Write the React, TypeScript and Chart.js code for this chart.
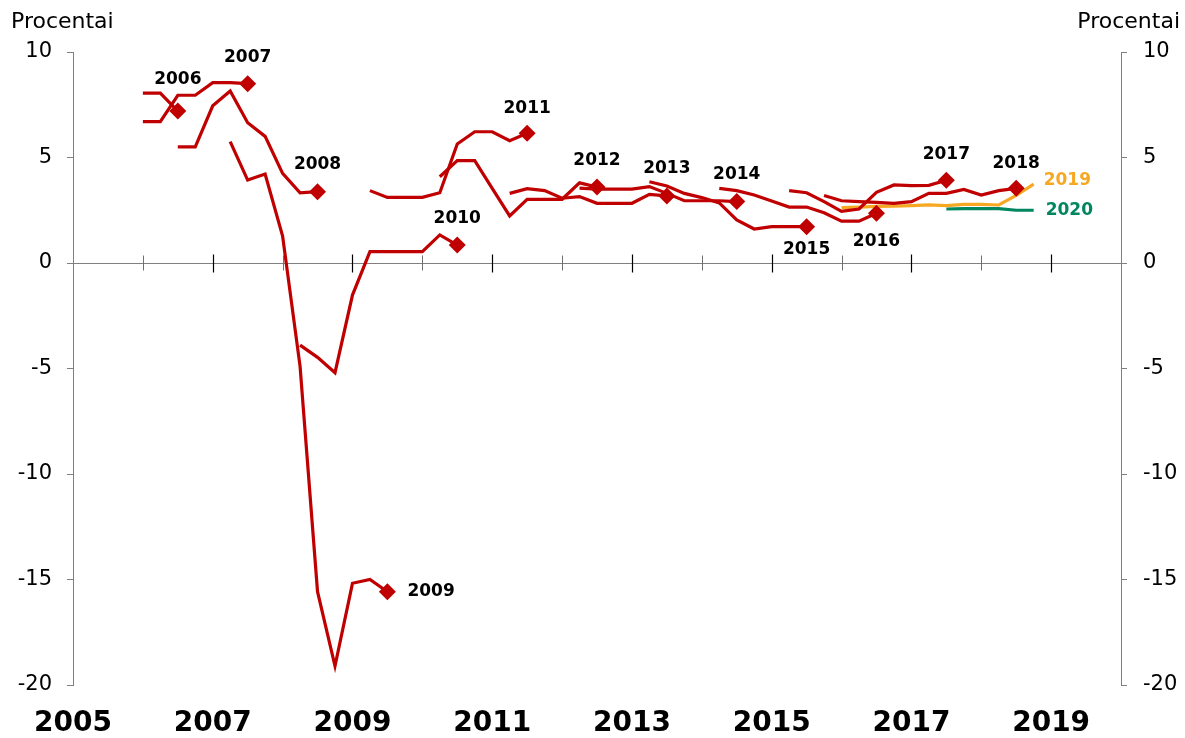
import React, { useEffect, useRef } from 'react';
import { Chart, registerables } from 'chart.js';

Chart.register(...registerables);

// ---- data ----
const vintageNames = ['2006', '2007', '2008', '2009', '2010', '2011', '2012', '2013', '2014', '2015', '2016', '2017', '2018', '2019', '2020'];
// first forecast date (year fraction) of each vintage; points follow quarterly
const vintageStarts = [2006.0, 2006.0, 2006.5, 2007.25, 2008.25, 2009.25, 2010.25, 2011.25, 2012.25, 2013.25, 2014.25, 2015.25, 2015.75, 2016.0, 2017.5];

const f2006 = [8.05, 8.05, 7.2];
const f2007 = [6.7, 6.7, 7.95, 7.95, 8.55, 8.55, 8.5];
const f2008 = [5.5, 5.5, 7.45, 8.15, 6.65, 6.0, 4.25, 3.33, 3.38];
const f2009 = [5.75, 3.93, 4.22, 1.28, -4.9, -15.58, -19.1, -15.18, -15.0, -15.58];
const f2010 = [-3.89, -4.47, -5.2, -1.52, 0.54, 0.54, 0.54, 0.54, 1.33, 0.85];
const f2011 = [3.43, 3.11, 3.11, 3.11, 3.33, 5.64, 6.22, 6.22, 5.8, 6.15];
const f2012 = [4.09, 4.85, 4.85, 3.54, 2.23, 3.02, 3.02, 3.02, 3.8, 3.6];
const f2013 = [3.3, 3.52, 3.43, 3.07, 3.15, 2.83, 2.83, 2.83, 3.25, 3.18];
const f2014 = [3.55, 3.5, 3.5, 3.5, 3.62, 3.3, 2.95, 2.95, 2.95, 2.91];
const f2015 = [3.85, 3.65, 3.3, 3.1, 2.85, 2.04, 1.61, 1.72, 1.72, 1.72];
const f2016 = [3.54, 3.43, 3.22, 2.94, 2.65, 2.65, 2.38, 1.98, 1.98, 2.36];
const f2017 = [3.43, 3.33, 2.91, 2.45, 2.56, 3.35, 3.7, 3.67, 3.68, 3.92];
const f2018 = [3.2, 2.95, 2.91, 2.87, 2.83, 2.91, 3.3, 3.3, 3.49, 3.22, 3.43, 3.54];
const f2019 = [2.62, 2.65, 2.68, 2.7, 2.72, 2.75, 2.72, 2.78, 2.78, 2.75, 3.2, 3.74];
const f2020 = [2.56, 2.58, 2.58, 2.58, 2.5, 2.5];

const vintageValues = [f2006, f2007, f2008, f2009, f2010, f2011, f2012, f2013, f2014, f2015, f2016, f2017, f2018, f2019, f2020];

const xTickYears = [2005, 2007, 2009, 2011, 2013, 2015, 2017, 2019];
const zeroLineTickYears = [2006, 2007, 2008, 2009, 2010, 2011, 2012, 2013, 2014, 2015, 2016, 2017, 2018, 2019];
const yTicks = [10, 5, 0, -5, -10, -15, -20];
const axisTitle = 'Procentai';

// ---- styles ----
const RED = '#C00000';
const ORANGE = '#F7A823';
const GREEN = '#00875F';
const AXIS = '#808080';
const FONT = '"DejaVu Sans", Verdana, sans-serif';

const vintageColors = vintageNames.map((n) => (n === '2019' ? ORANGE : n === '2020' ? GREEN : RED));
const hasDiamond = vintageNames.map((n) => n !== '2019' && n !== '2020');
// label placement relative to last point: [dx, dy, align]
const labelPlacement: [number, number, CanvasTextAlign][] = [
  [0, -32, 'center'],
  [0, -26, 'center'],
  [0, -27, 'center'],
  [20, 0, 'left'],
  [0, -26, 'center'],
  [0, -25, 'center'],
  [0, -26, 'center'],
  [0, -27, 'center'],
  [0, -27, 'center'],
  [0, 23, 'center'],
  [0, 28, 'center'],
  [0, -26, 'center'],
  [0, -25, 'center'],
  [10, -4, 'left'],
  [12, 0, 'left'],
];

const zeroLinePlugin = {
  id: 'zeroLine',
  beforeDatasetsDraw(chart: any) {
    const { ctx, chartArea, scales } = chart;
    const y0 = Math.round(scales.y.getPixelForValue(0)) + 0.5;
    ctx.save();
    ctx.strokeStyle = AXIS;
    ctx.lineWidth = 1;
    ctx.beginPath();
    ctx.moveTo(chartArea.left, y0);
    ctx.lineTo(chartArea.right, y0);
    ctx.stroke();
    zeroLineTickYears.forEach((yr) => {
      const x = Math.round(scales.x.getPixelForValue(yr)) + 0.5;
      const major = yr % 2 === 1;
      ctx.strokeStyle = major ? '#000' : '#707070';
      ctx.lineWidth = major ? 1.2 : 1;
      const up = major ? 9 : 8;
      const dn = major ? 9 : 7;
      ctx.beginPath();
      ctx.moveTo(x, y0 - up);
      ctx.lineTo(x, y0 + dn);
      ctx.stroke();
    });
    ctx.restore();
  },
};

const labelsPlugin = {
  id: 'vintageLabels',
  afterDatasetsDraw(chart: any) {
    const { ctx } = chart;
    ctx.save();
    ctx.font = `bold 17px ${FONT}`;
    ctx.textBaseline = 'middle';
    chart.data.datasets.forEach((ds: any, i: number) => {
      const meta = chart.getDatasetMeta(i);
      const pt = meta.data[meta.data.length - 1];
      if (!pt) return;
      const [dx, dy, align] = labelPlacement[i];
      ctx.fillStyle = i >= 13 ? vintageColors[i] : '#000';
      ctx.textAlign = align;
      ctx.fillText(vintageNames[i], pt.x + dx, pt.y + dy);
    });
    ctx.restore();
  },
};

const titlePlugin = {
  id: 'unitTitles',
  afterDraw(chart: any) {
    const { ctx, width } = chart;
    ctx.save();
    ctx.font = `22px ${FONT}`;
    ctx.fillStyle = '#000';
    ctx.textBaseline = 'alphabetic';
    ctx.textAlign = 'left';
    ctx.fillText(axisTitle, 11, 28);
    ctx.textAlign = 'right';
    ctx.fillText(axisTitle, width - 5, 28);
    ctx.restore();
  },
};

export default function App() {
  const ref = useRef<HTMLCanvasElement>(null);

  useEffect(() => {
    if (!ref.current) return;
    const datasets = vintageValues.map((vals, i) => ({
      label: vintageNames[i],
      data: vals.map((v, k) => ({ x: vintageStarts[i] + k * 0.25, y: v })),
      borderColor: vintageColors[i],
      backgroundColor: vintageColors[i],
      borderWidth: 3.2,
      tension: 0,
      fill: false,
      pointStyle: 'rectRot',
      pointRadius: vals.map((_, k) => (hasDiamond[i] && k === vals.length - 1 ? 8.5 : 0)),
      pointBorderWidth: 0,
      pointBackgroundColor: vintageColors[i],
      pointHoverRadius: 0,
    }));

    const yCommon = {
      type: 'linear' as const,
      min: -20,
      max: 10,
      afterBuildTicks: (s: any) => {
        s.ticks = yTicks.map((v) => ({ value: v }));
      },
      grid: { drawOnChartArea: false, drawTicks: true, tickLength: 6, color: AXIS, lineWidth: 1 },
      border: { display: true, color: AXIS, width: 1 },
    };

    const chart = new Chart(ref.current, {
      type: 'line',
      data: { datasets },
      options: {
        animation: false,
        responsive: false,
        devicePixelRatio: 1,
        layout: { padding: { top: 52, left: 0, right: 0, bottom: 0 } },
        plugins: { legend: { display: false }, tooltip: { enabled: false } },
        scales: {
          x: {
            type: 'linear',
            position: 'bottom',
            min: 2005,
            max: 2020,
            afterBuildTicks: (s: any) => {
              s.ticks = xTickYears.map((v) => ({ value: v }));
            },
            afterFit: (s: any) => {
              s.height = 53;
            },
            grid: { display: false, drawTicks: false },
            border: { display: false },
            ticks: {
              autoSkip: false,
              maxRotation: 0,
              padding: 22,
              color: '#000',
              font: { family: FONT, size: 28, weight: 'bold' },
              callback: (v: any) => String(v),
            },
          },
          y: {
            ...yCommon,
            position: 'left',
            afterFit: (s: any) => {
              s.width = 73;
            },
            ticks: { padding: 15, color: '#000', font: { family: FONT, size: 21 } },
          },
          y2: {
            ...yCommon,
            position: 'right',
            afterFit: (s: any) => {
              s.width = 64;
            },
            ticks: { padding: 16, color: '#000', font: { family: FONT, size: 21 } },
          },
        },
      },
      plugins: [zeroLinePlugin, labelsPlugin, titlePlugin],
    } as any);
    return () => chart.destroy();
  }, []);

  return (
    <div style={{ position: 'fixed', left: 0, top: 0, width: 1185, height: 738, background: '#fff' }}>
      <canvas ref={ref} width={1185} height={738} style={{ width: 1185, height: 738, display: 'block' }} />
    </div>
  );
}
